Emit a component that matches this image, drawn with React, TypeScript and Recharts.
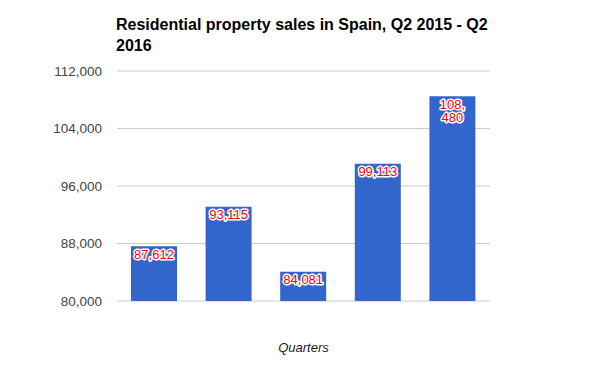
import React from 'react';
import { BarChart, Bar, XAxis, YAxis, CartesianGrid, LabelList } from 'recharts';

const quarters = ['Q2 2015', 'Q3 2015', 'Q4 2015', 'Q1 2016', 'Q2 2016'];
const sales = [87612, 93115, 84081, 99113, 108480];
const yTicks = [80000, 88000, 96000, 104000, 112000];

const data = quarters.map((q, i) => ({ quarter: q, sales: sales[i] }));

const FONT = 'Arial, "Liberation Sans", sans-serif';

const fmt = (v: number) => v.toLocaleString('en-US');

// red value label with a white halo, wrapped onto two lines if wider than the bar
const ValueLabel = (props: any) => {
  const { x, y, width, value } = props;
  const text = fmt(Number(value));
  const lines = text.length > 6 ? [text.slice(0, text.indexOf(',') + 1), text.slice(text.indexOf(',') + 1)] : [text];
  const cx = Number(x) + Number(width) / 2;
  return (
    <text
      x={cx}
      y={Number(y) + 12.5}
      textAnchor="middle"
      fontFamily={FONT}
      fontSize={13}
      fill="#ff0000"
      stroke="#ffffff"
      strokeWidth={3}
      strokeLinejoin="round"
      paintOrder="stroke"
    >
      {lines.map((l, i) => (
        <tspan key={i} x={cx} dy={i === 0 ? 0 : 13.5}>
          {l}
        </tspan>
      ))}
    </text>
  );
};

export default function App() {
  return (
    <div style={{ position: 'absolute', left: 0, top: 0, width: 604, height: 373, background: '#fff', fontFamily: FONT }}>
      <div
        style={{
          position: 'absolute',
          left: 116,
          top: 14,
          fontSize: 16,
          fontWeight: 'bold',
          lineHeight: '21px',
          color: '#000',
          zIndex: 1,
        }}
      >
        Residential property sales in Spain, Q2 2015 - Q2
        <br />
        2016
      </div>
      <BarChart
        width={604}
        height={373}
        data={data}
        margin={{ top: 71, right: 114, bottom: 0, left: 0 }}
      >
        <CartesianGrid vertical={false} stroke="#cccccc" />
        <YAxis
          width={117}
          domain={[80000, 112000]}
          ticks={yTicks}
          tickFormatter={fmt}
          axisLine={false}
          tickLine={false}
          tickMargin={9}
          tick={{ fill: '#444444', fontSize: 13.5, fontFamily: FONT }}
        />
        <XAxis
          dataKey="quarter"
          height={72}
          tick={false}
          axisLine={false}
          tickLine={false}
          label={{
            value: 'Quarters',
            position: 'insideTop',
            offset: 42,
            fill: '#222222',
            fontSize: 13,
            fontStyle: 'italic',
            fontFamily: FONT,
          }}
        />
        <Bar dataKey="sales" fill="#3366cc" barSize={46} isAnimationActive={false}>
          <LabelList dataKey="sales" content={ValueLabel} />
        </Bar>
      </BarChart>
    </div>
  );
}
